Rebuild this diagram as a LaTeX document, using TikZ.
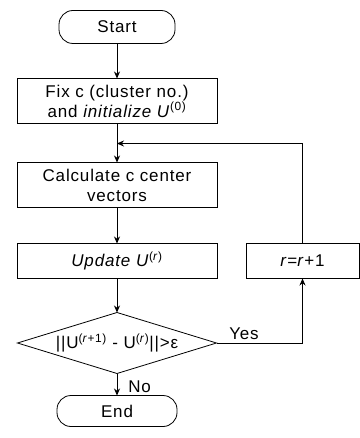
\documentclass[tikz,border=0pt]{standalone}
\usepackage{fontspec}
\setmainfont{Liberation Sans}[LetterSpace = 5]
\usetikzlibrary{positioning, arrows.meta, shapes.geometric}

\begin{document}
\begin{tikzpicture}[font = \fontsize{17}{20}\selectfont, line width = 0.8pt, draw = black, outer sep = 0pt,
  term/.style = {draw, rounded corners = 14pt, minimum width = 116pt, minimum height = 33pt},
  procbox/.style = {draw, align = center, minimum width = 200pt, minimum height = 45pt, inner sep = 2pt},
  test/.style = {draw, diamond, aspect = 3.2, minimum width = 199pt, minimum height = 61pt, inner sep = 0pt},
  flow/.style = {-{Stealth[length = 7pt, width = 6pt]}}]
  \useasboundingbox (0pt, 0pt) rectangle (359pt, -438pt);

  \node (start) [term] at (117pt, -27pt) {Start};
  \node (fix) [procbox, below = 35pt of start] {Fix c (cluster no.)\\and \textit{initialize U}\textsuperscript{(0)}};
  \coordinate [below = 20pt of fix] (merge);
  \node (calc) [procbox, below = 39pt of fix] {Calculate c center\\vectors};
  \node (update) [procbox, minimum height = 35pt, below = 36pt of calc] {\textit{Update U}\textsuperscript{(\textit{r})}};
  \node (dec) [test, below = 34pt of update] {||U\textsuperscript{(\textit{r}+1)} - U\textsuperscript{(\textit{r})}||>ε};
  \node (end) [term, minimum width = 120pt, minimum height = 31pt, below = 22pt of dec] {End};
  \node (inc) [procbox, minimum width = 113pt, minimum height = 35pt, right = 29pt of update] {\textit{r}=\textit{r}+1};

  \draw [flow] (start) -- (fix);
  \draw [flow] (fix) -- (calc);
  \draw [flow] (calc) -- (update);
  \draw [flow] (update) -- (dec);
  \draw [flow] (dec) -- node [pos = 0.6, right = 8pt] {No} (end);
  \draw [flow] (dec) -| node [pos = 0.16, above] {Yes} (inc);
  \draw [flow] (inc) |- (merge);
\end{tikzpicture}
\end{document}
